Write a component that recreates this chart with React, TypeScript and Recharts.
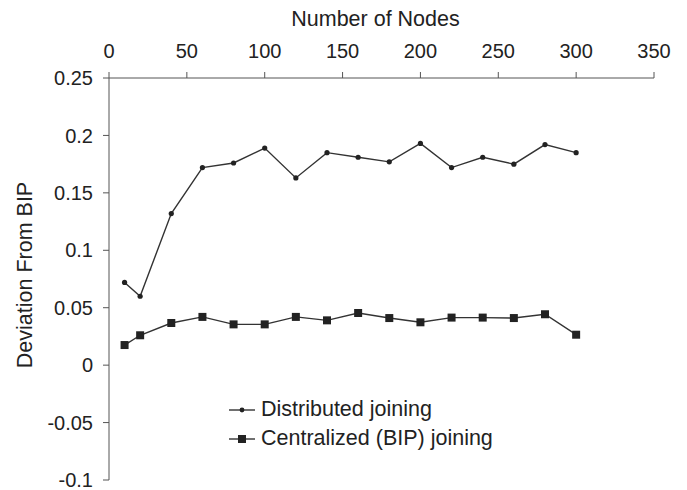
import React from "react"
import { LineChart, Line, XAxis, YAxis, Legend, Label } from "recharts"

const nodes = [10, 20, 40, 60, 80, 100, 120, 140, 160, 180, 200, 220, 240, 260, 280, 300]
const distributed = [0.072, 0.06, 0.132, 0.172, 0.176, 0.189, 0.163, 0.185, 0.181, 0.177, 0.193, 0.172, 0.181, 0.175, 0.192, 0.185]
const centralized = [0.0175, 0.026, 0.0367, 0.042, 0.0355, 0.0355, 0.042, 0.039, 0.0454, 0.041, 0.0373, 0.0414, 0.0414, 0.041, 0.0443, 0.0265]
const xTicks = [0, 50, 100, 150, 200, 250, 300, 350]
const yTicks = [-0.1, -0.05, 0, 0.05, 0.1, 0.15, 0.2, 0.25]

const data = nodes.map((n, i) => ({ n, dist: distributed[i], cent: centralized[i] }))

const FONT = "'Liberation Sans', Arial, sans-serif"
const INK = "#222"
const AXIS = "#555"

// eslint-disable-next-line @typescript-eslint/no-explicit-any
const RoundDot = ({ cx, cy }: any) => <circle cx={cx} cy={cy} r={2.6} fill={INK} />
// eslint-disable-next-line @typescript-eslint/no-explicit-any
const SquareDot = ({ cx, cy }: any) => <rect x={cx - 4} y={cy - 4} width={8} height={8} fill={INK} />

const legendItems = [
  { label: "Distributed joining", square: false },
  { label: "Centralized (BIP) joining", square: true },
]

const LegendBox = () => (
  <div style={{ fontFamily: FONT, fontSize: 21.5, color: INK }}>
    {legendItems.map((it) => (
      <div key={it.label} style={{ display: "flex", alignItems: "center", height: 29 }}>
        <svg width={32} height={12}>
          <line x1={0} y1={6} x2={26} y2={6} stroke="#333" strokeWidth={1.4} />
          {it.square ? <rect x={9} y={2} width={8} height={8} fill={INK} /> : <circle cx={13} cy={6} r={2.4} fill={INK} />}
        </svg>
        <span>{it.label}</span>
      </div>
    ))}
  </div>
)

// eslint-disable-next-line @typescript-eslint/no-explicit-any
const YTitle = ({ viewBox }: any) => {
  const x = viewBox.x + 16
  const y = viewBox.y + viewBox.height / 2 - 4
  return (
    <text x={x} y={y} transform={`rotate(-90 ${x} ${y})`} textAnchor="middle" dominantBaseline="central" fill={INK} fontSize={21.5} fontFamily={FONT}>
      Deviation From BIP
    </text>
  )
}

export default function App() {
  return (
    <div style={{ position: "absolute", left: 0, top: 0, background: "#fff" }}>
      <LineChart
        width={687}
        height={490}
        data={data}
        margin={{ top: 12, right: 33, bottom: 10, left: 9 }}
        style={{ overflow: "visible" }}
      >
        <XAxis
          dataKey="n"
          type="number"
          orientation="top"
          domain={[0, 350]}
          ticks={xTicks}
          interval={0}
          height={66}
          stroke={AXIS}
          tickSize={6}
          tickMargin={14}
          tick={{ fill: INK, fontSize: 20, fontFamily: FONT }}
        >
          <Label value="Number of Nodes" position="insideTop" offset={-1} dx={-6} fill={INK} fontSize={21.5} fontFamily={FONT} />
        </XAxis>
        <YAxis
          type="number"
          domain={[-0.1, 0.25]}
          ticks={yTicks}
          interval={0}
          width={100}
          stroke={AXIS}
          tickSize={6}
          tickMargin={10}
          tickFormatter={(v: number) => String(v)}
          tick={{ fill: INK, fontSize: 20, fontFamily: FONT }}
        >
          <Label content={<YTitle />} />
        </YAxis>
        <Line dataKey="dist" name="Distributed joining" stroke="#333" strokeWidth={1.4} dot={<RoundDot />} activeDot={false} isAnimationActive={false} />
        <Line dataKey="cent" name="Centralized (BIP) joining" stroke="#333" strokeWidth={1.4} dot={<SquareDot />} activeDot={false} isAnimationActive={false} />
        <Legend
          content={<LegendBox />}
          layout="vertical"
          align="center"
          verticalAlign="middle"
          wrapperStyle={{ left: 229, top: 395, width: 320 }}
        />
      </LineChart>
    </div>
  )
}
